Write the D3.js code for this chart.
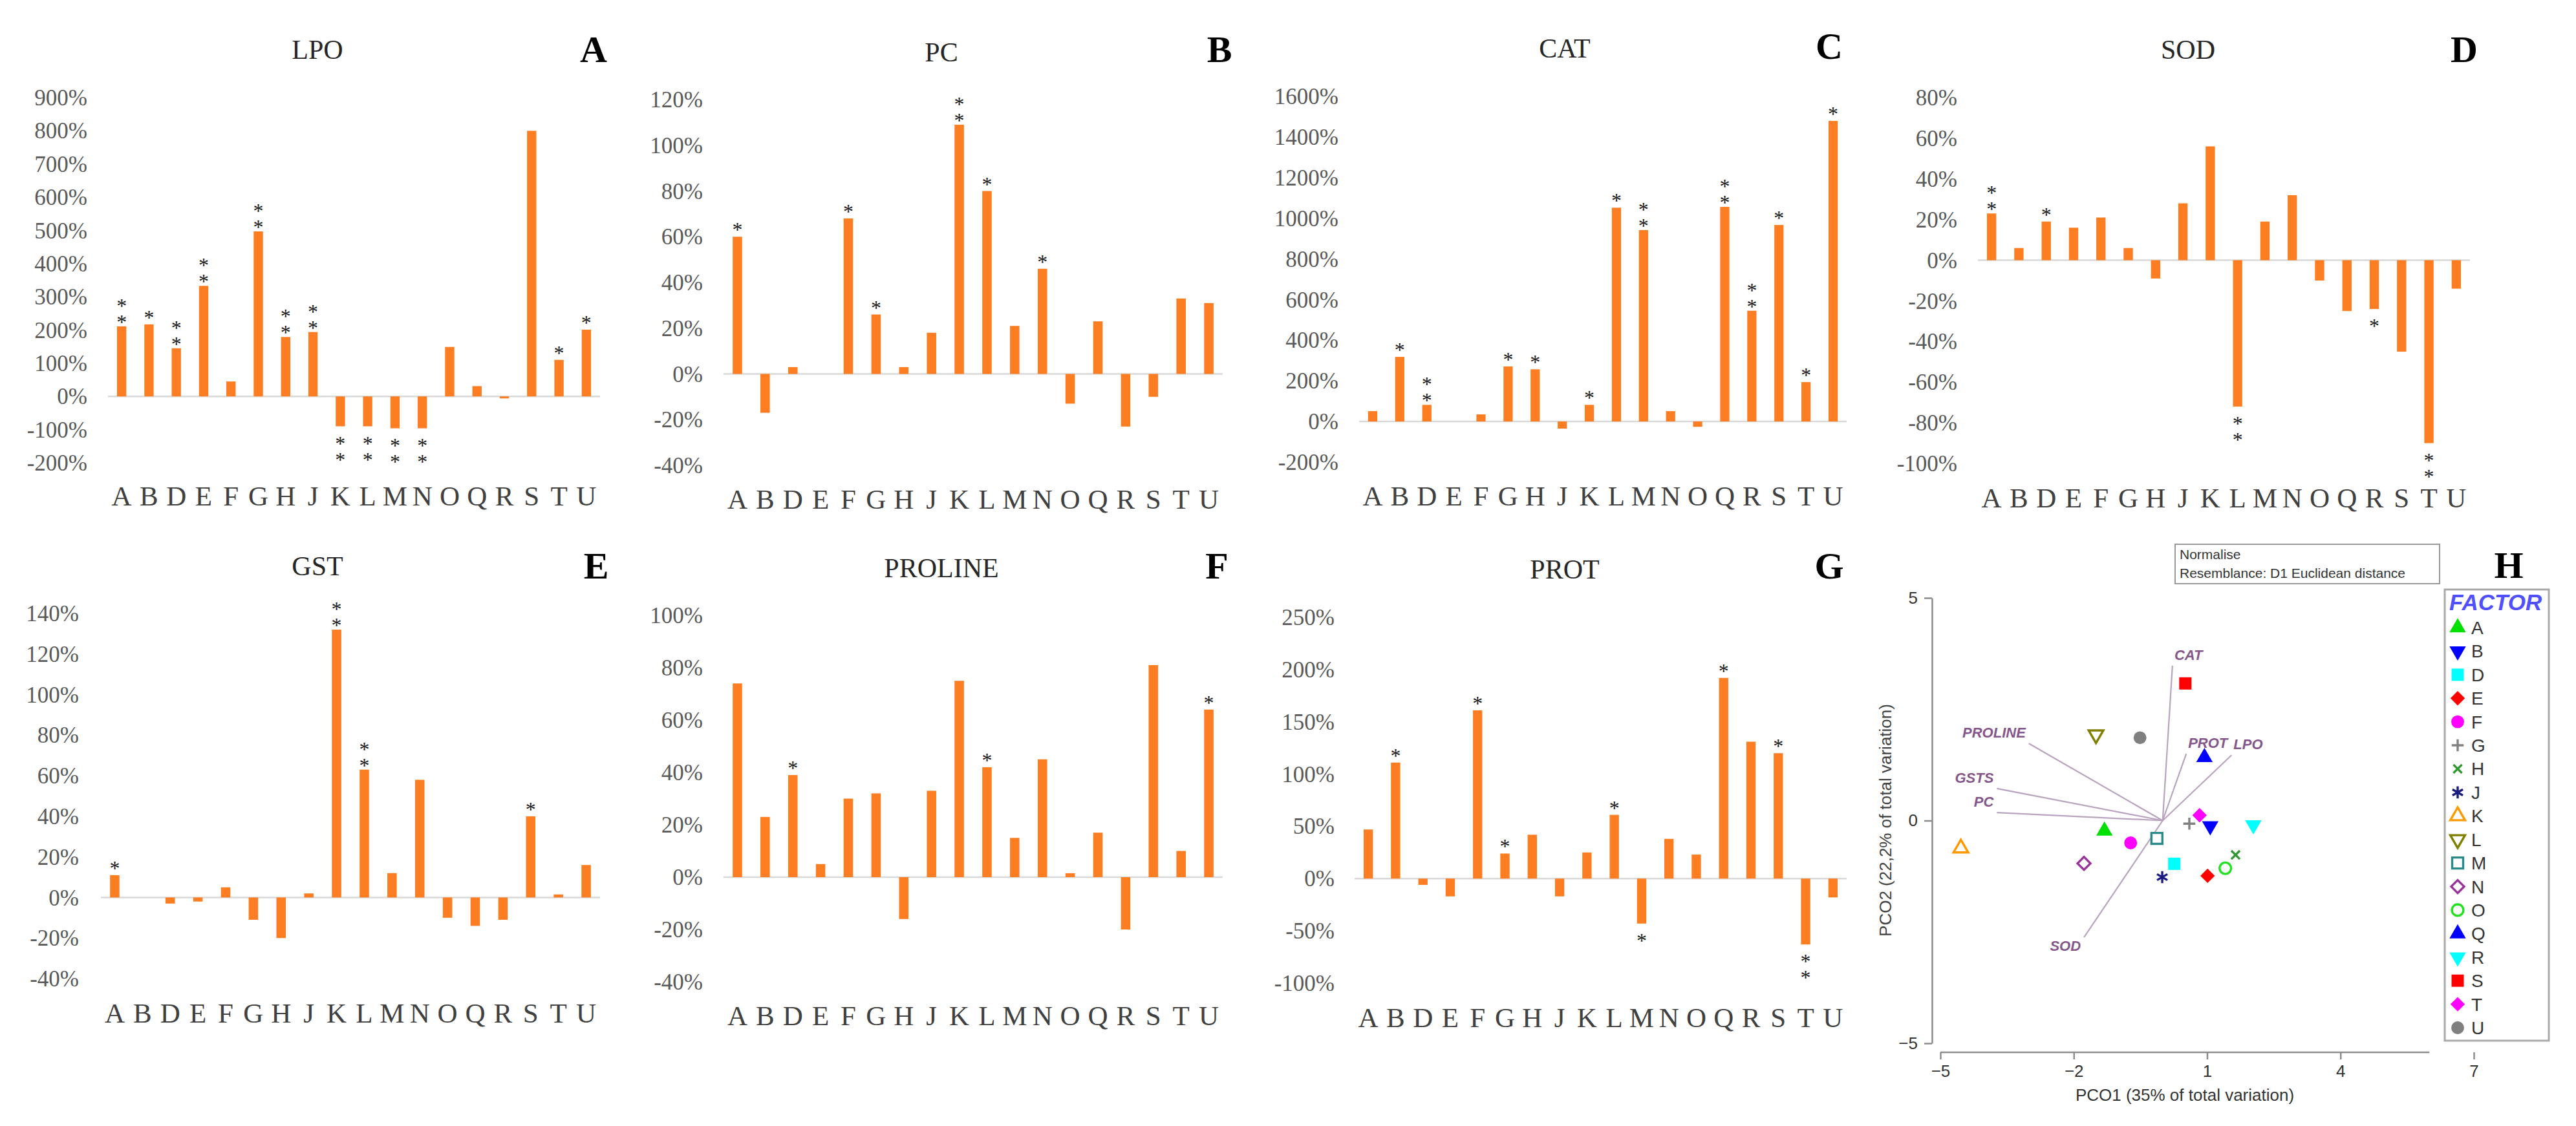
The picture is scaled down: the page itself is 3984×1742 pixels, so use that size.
<!DOCTYPE html>
<html>
<head>
<meta charset="utf-8">
<script src="https://cdn.jsdelivr.net/npm/d3@7"></script>
<style>
  body { margin: 0; background: #fff; }
  svg { display: block; }
  .star { writing-mode: vertical-rl; text-orientation: upright; }
</style>
</head>
<body>
<script>
'use strict';

// ---- data ----
var categories = ['A','B','D','E','F','G','H','J','K','L','M','N','O','Q','R','S','T','U'];

var lpo      = [211, 217, 145, 333, 45, 497, 179, 194, -90, -90, -96, -96, 149, 31, -6, 800, 110, 201];
var lpoStars = [2, 1, 2, 2, 0, 2, 2, 2, 2, 2, 2, 2, 0, 0, 0, 0, 1, 1];

var pc      = [60, -17, 3, 0, 68, 26, 3, 18, 109, 80, 21, 46, -13, 23, -23, -10, 33, 31];
var pcStars = [1, 0, 0, 0, 1, 1, 0, 0, 2, 1, 0, 1, 0, 0, 0, 0, 0, 0];

var cat      = [51, 318, 82, 0, 35, 271, 257, -35, 82, 1052, 942, 51, -26, 1056, 545, 967, 194, 1479];
var catStars = [0, 1, 2, 0, 0, 1, 1, 0, 1, 1, 2, 0, 0, 2, 2, 1, 1, 1];

var sod      = [23, 6, 19, 16, 21, 6, -9, 28, 56, -72, 19, 32, -10, -25, -24, -45, -90, -14];
var sodStars = [2, 0, 1, 0, 0, 0, 0, 0, 0, 2, 0, 0, 0, 0, 1, 0, 2, 0];

var gst      = [11, 0, -3, -2, 5, -11, -20, 2, 132, 63, 12, 58, -10, -14, -11, 40, 1.5, 16];
var gstStars = [1, 0, 0, 0, 0, 0, 0, 0, 2, 2, 0, 0, 0, 0, 0, 1, 0, 0];

var proline      = [74, 23, 39, 5, 30, 32, -16, 33, 75, 42, 15, 45, 1.5, 17, -20, 81, 10, 64];
var prolineStars = [0, 0, 1, 0, 0, 0, 0, 0, 0, 1, 0, 0, 0, 0, 0, 0, 0, 1];

var prot      = [47, 111, -6, -17, 161, 24, 42, -17, 25, 61, -43, 38, 23, 192, 131, 120, -63, -18];
var protStars = [0, 1, 0, 0, 1, 1, 0, 0, 0, 1, 1, 0, 0, 1, 0, 1, 2, 0];

// PCO ordination scores (same order as categories)
var pco1 = [-1.31, 1.07, 0.26, 1.01, -0.72, 0.60, 1.64, -0.01, -4.54, -1.50, -0.13, -1.77, 1.41, 0.94, 2.04, 0.51, 0.83, -0.51];
var pco2 = [-0.23, -0.12, -0.97, -1.24, -0.50, -0.07, -0.77, -1.27, -0.62, 1.93, -0.40, -0.96, -1.07, 1.42, -0.10, 3.08, 0.12, 1.86];

var vectorNames = ['CAT', 'PROT', 'LPO', 'PROLINE', 'GSTS', 'PC', 'SOD'];
var vectorX     = [0.22, 0.53, 1.55, -3.01, -3.73, -3.73, -1.77];
var vectorY     = [3.48, 1.50, 1.47, 1.73, 0.72, 0.18, -2.62];

var pcoXTicks = [-5, -2, 1, 4, 7];
var pcoYTicks = [-5, 0, 5];

// ---- styles ----
var BAR = '#fd7e22';
var SERIF = "'Liberation Serif', 'Times New Roman', serif";
var SANS = "'Liberation Sans', Arial, sans-serif";

var markerShape = ['triangle','triangleDown','square','diamond','circle','plus','x','asterisk','triangle','triangleDown','square','diamond','circle','triangle','triangleDown','square','diamond','circle'];
var markerFilled = [true, true, true, true, true, false, false, false, false, false, false, false, false, true, true, true, true, true];
var markerColor = ['#00e000','#0000ff','#00ffff','#ff0000','#ff00ff','#808080','#2e9a2e','#1a1a80','#ff9900','#808000','#2a8a8a','#993399','#22e022','#0000ff','#00ffff','#ff0000','#ff00ff','#808080'];

var svg = d3.select('body').append('svg')
    .attr('width', 3984)
    .attr('height', 1742);

svg.append('rect').attr('width', 3984).attr('height', 1742).attr('fill', '#fff');

var panels = [
  {title:'LPO', letter:'A', values:lpo, stars:lpoStars, domain:[-200, 900], step:100,
   left:167, right:928, top:151, bottom:716, tickX:135, titleX:491, titleY:77, letterX:918, letterY:77, catY:768},
  {title:'PC', letter:'B', values:pc, stars:pcStars, domain:[-40, 120], step:20,
   left:1119, right:1891, top:154, bottom:720, tickX:1087, titleX:1456, titleY:81, letterX:1886, letterY:77, catY:773},
  {title:'CAT', letter:'C', values:cat, stars:catStars, domain:[-200, 1600], step:200,
   left:2102, right:2856, top:149, bottom:715, tickX:2070, titleX:2420, titleY:75, letterX:2829, letterY:72, catY:768},
  {title:'SOD', letter:'D', values:sod, stars:sodStars, domain:[-100, 80], step:20,
   left:3059, right:3820, top:151, bottom:717, tickX:3027, titleX:3384, titleY:77, letterX:3811, letterY:77, catY:771},
  {title:'GST', letter:'E', values:gst, stars:gstStars, domain:[-40, 140], step:20,
   left:156, right:928, top:949, bottom:1514, tickX:122, titleX:491, titleY:876, letterX:922, letterY:876, catY:1568},
  {title:'PROLINE', letter:'F', values:proline, stars:prolineStars, domain:[-40, 100], step:20,
   left:1119, right:1891, top:952, bottom:1519, tickX:1087, titleX:1456, titleY:879, letterX:1882, letterY:876, catY:1572},
  {title:'PROT', letter:'G', values:prot, stars:protStars, domain:[-100, 250], step:50,
   left:2095, right:2856, top:955, bottom:1521, tickX:2064, titleX:2420, titleY:881, letterX:2829, letterY:876, catY:1575}
];

function drawBarPanel(p) {
  var g = svg.append('g').attr('class', 'panel-' + p.letter);

  var x = d3.scaleBand()
      .domain(categories)
      .range([p.left, p.right])
      .paddingInner(0.66)
      .paddingOuter(0.33);

  var y = d3.scaleLinear()
      .domain(p.domain)
      .range([p.bottom, p.top]);

  // y tick labels
  var yAxis = g.append('g')
      .attr('transform', 'translate(' + p.tickX + ',0)')
      .call(d3.axisLeft(y)
        .tickValues(d3.range(p.domain[0], p.domain[1] + p.step / 2, p.step))
        .tickFormat(function(d) { return d + '%'; })
        .tickSize(0)
        .tickPadding(0));
  yAxis.select('.domain').remove();
  yAxis.attr('font-family', SERIF).attr('font-size', 35);
  yAxis.selectAll('text').attr('fill', '#595959').attr('dy', '0.33em');

  // zero line
  g.append('line')
      .attr('x1', p.left).attr('x2', p.right)
      .attr('y1', y(0)).attr('y2', y(0))
      .attr('stroke', '#d9d9d9')
      .attr('stroke-width', 2.5);

  // bars
  g.selectAll('rect.bar')
      .data(p.values)
      .enter().append('rect')
      .attr('class', 'bar')
      .attr('x', function(d, i) { return x(categories[i]); })
      .attr('width', x.bandwidth())
      .attr('y', function(d) { return y(Math.max(0, d)); })
      .attr('height', function(d) { return Math.abs(y(d) - y(0)); })
      .attr('fill', BAR);

  // significance stars, stacked vertically in one text
  var starSize = 32, starGap = 21;
  var starData = [];
  p.values.forEach(function(v, i) {
    var n = p.stars[i];
    if (!n) return;
    var topCenter = v >= 0 ? y(v) - 16 - (n - 1) * starGap : y(v) + 21;
    starData.push({x: x(categories[i]) + x.bandwidth() / 2, y: topCenter, n: n});
  });
  g.selectAll('text.star')
      .data(starData)
      .enter().append('text')
      .attr('class', 'star')
      .attr('x', function(d) { return d.x; })
      .attr('y', function(d) { return d.y - 13; })
      .attr('font-family', SERIF)
      .attr('font-size', starSize)
      .attr('letter-spacing', starGap - starSize)
      .attr('fill', '#1a1a1a')
      .text(function(d) { return d.n === 2 ? '**' : '*'; });

  // category labels
  var catSize = 43;
  var xAxis = g.append('g')
      .attr('transform', 'translate(0,' + (p.catY - 0.38 * catSize) + ')')
      .call(d3.axisBottom(x).tickSize(0).tickPadding(0));
  xAxis.select('.domain').remove();
  xAxis.attr('font-family', SERIF).attr('font-size', catSize);
  xAxis.selectAll('text').attr('fill', '#404040');

  // title and panel letter
  g.append('text')
      .attr('x', p.titleX).attr('y', p.titleY + 0.33 * 42)
      .attr('text-anchor', 'middle')
      .attr('font-family', SERIF).attr('font-size', 42)
      .attr('fill', '#262626')
      .text(p.title);

  g.append('text')
      .attr('x', p.letterX).attr('y', p.letterY + 0.33 * 58)
      .attr('text-anchor', 'middle')
      .attr('font-family', SERIF).attr('font-size', 58)
      .attr('font-weight', 'bold')
      .attr('fill', '#000')
      .text(p.letter);
}

panels.forEach(drawBarPanel);

// ---- panel H: PCO ordination ----
function markerPath(shape, size) {
  var p;
  if (shape === 'plus' || shape === 'x' || shape === 'asterisk') {
    var r = Math.sqrt(size) * 0.62;
    var angles = shape === 'plus' ? [0, 90] : shape === 'x' ? [45, 135] : [90, 30, 150];
    p = d3.path();
    angles.forEach(function(a) {
      var t = a * Math.PI / 180;
      p.moveTo(-r * Math.cos(t), -r * Math.sin(t));
      p.lineTo(r * Math.cos(t), r * Math.sin(t));
    });
    return p.toString();
  }
  var type = shape === 'circle' ? d3.symbolCircle
    : (shape === 'square' || shape === 'diamond') ? d3.symbolSquare
    : d3.symbolTriangle;
  return d3.symbol(type, size)();
}

function markerTransform(shape, cx, cy) {
  var rot = shape === 'triangleDown' ? 180 : shape === 'diamond' ? 45 : 0;
  return 'translate(' + cx + ',' + cy + ') rotate(' + rot + ')';
}

function markerSize(shape, filled) {
  var s = shape === 'square' ? 360 : shape === 'circle' ? 310 : shape === 'diamond' ? 250 : 280;
  return filled ? s : s * 0.8;
}

function drawMarker(sel, i, cx, cy) {
  var shape = markerShape[i];
  var filled = markerFilled[i];
  var stroked = shape === 'plus' || shape === 'x' || shape === 'asterisk';
  sel.append('path')
      .attr('d', markerPath(shape, markerSize(shape, filled)))
      .attr('transform', markerTransform(shape, cx, cy))
      .attr('fill', filled ? markerColor[i] : (stroked ? 'none' : '#fff'))
      .attr('stroke', filled ? 'none' : markerColor[i])
      .attr('stroke-width', 3.4);
}

var h = svg.append('g').attr('class', 'panel-H');

var px = d3.scaleLinear().domain([-5, 7]).range([3001, 3826]);
var py = d3.scaleLinear().domain([-5, 5]).range([1614, 925]);

var axisColor = '#8c8c8c';

// y axis
var yA = h.append('g')
    .attr('transform', 'translate(2988,0)')
    .call(d3.axisLeft(py).tickValues(pcoYTicks).tickSize(12).tickSizeOuter(0).tickPadding(10));
yA.attr('font-family', SANS).attr('font-size', 26);
yA.select('.domain').attr('stroke', axisColor).attr('stroke-width', 2.5);
yA.selectAll('line').attr('stroke', axisColor).attr('stroke-width', 2.5);
yA.selectAll('text').attr('fill', '#333');

// x axis (line stops at 6, tick at 7 stands alone)
var xA = h.append('g')
    .attr('transform', 'translate(0,1628)')
    .call(d3.axisBottom(px).tickValues(pcoXTicks).tickSize(11).tickSizeOuter(0).tickPadding(9));
xA.select('.domain').remove();
xA.append('line')
    .attr('x1', px(-5)).attr('x2', px(6))
    .attr('stroke', axisColor).attr('stroke-width', 2.5);
xA.attr('font-family', SANS).attr('font-size', 26);
xA.selectAll('.tick line').attr('stroke', axisColor).attr('stroke-width', 2.5);
xA.selectAll('text').attr('fill', '#333');

h.append('text')
    .attr('x', 3379).attr('y', 1703)
    .attr('text-anchor', 'middle')
    .attr('font-family', SANS).attr('font-size', 26)
    .attr('fill', '#333')
    .text('PCO1 (35% of total variation)');

h.append('text')
    .attr('transform', 'translate(2925,1269) rotate(-90)')
    .attr('text-anchor', 'middle')
    .attr('font-family', SANS).attr('font-size', 26)
    .attr('fill', '#444')
    .text('PCO2 (22,2% of total variation)');

// info box
h.append('rect')
    .attr('x', 3364).attr('y', 842).attr('width', 409).attr('height', 61)
    .attr('fill', '#fff').attr('stroke', '#999').attr('stroke-width', 2);
h.append('text')
    .attr('x', 3371).attr('y', 865)
    .attr('font-family', SANS).attr('font-size', 21).attr('fill', '#333')
    .text('Normalise');
h.append('text')
    .attr('x', 3371).attr('y', 894)
    .attr('font-family', SANS).attr('font-size', 21).attr('fill', '#333')
    .text('Resemblance: D1 Euclidean distance');

// panel letter
h.append('text')
    .attr('x', 3880).attr('y', 875 + 0.33 * 58)
    .attr('text-anchor', 'middle')
    .attr('font-family', SERIF).attr('font-size', 58)
    .attr('font-weight', 'bold')
    .text('H');

// vectors
var ox = px(0), oy = py(0);
vectorNames.forEach(function(name, i) {
  var ex = px(vectorX[i]), ey = py(vectorY[i]);
  h.append('line')
      .attr('x1', ox).attr('y1', oy)
      .attr('x2', ex).attr('y2', ey)
      .attr('stroke', '#b9a3bf')
      .attr('stroke-width', 2.2);
  var right = vectorX[i] > 0;
  h.append('text')
      .attr('x', ex + (right ? 3 : -5))
      .attr('y', ey + (vectorY[i] < 0 ? 21 : -9))
      .attr('text-anchor', right ? 'start' : 'end')
      .attr('font-family', SANS).attr('font-size', 22)
      .attr('font-style', 'italic').attr('font-weight', 'bold')
      .attr('fill', '#84568a')
      .text(name);
});

// points
categories.forEach(function(c, i) {
  drawMarker(h, i, px(pco1[i]), py(pco2[i]));
});

// legend
var leg = h.append('g');
leg.append('rect')
    .attr('x', 3781).attr('y', 912).attr('width', 161).attr('height', 698)
    .attr('fill', '#fff').attr('stroke', '#aaa').attr('stroke-width', 3);
leg.append('text')
    .attr('x', 3788).attr('y', 944)
    .attr('font-family', SANS).attr('font-size', 35)
    .attr('font-style', 'italic').attr('font-weight', 'bold')
    .attr('fill', '#5050ff')
    .text('FACTOR');

var ly = d3.scalePoint().domain(categories).range([971, 1590]);
categories.forEach(function(c, i) {
  drawMarker(leg, i, 3801, ly(c));
  leg.append('text')
      .attr('x', 3822).attr('y', ly(c) + 10)
      .attr('font-family', SANS).attr('font-size', 28)
      .attr('fill', '#333')
      .text(c);
});
</script>
</body>
</html>
